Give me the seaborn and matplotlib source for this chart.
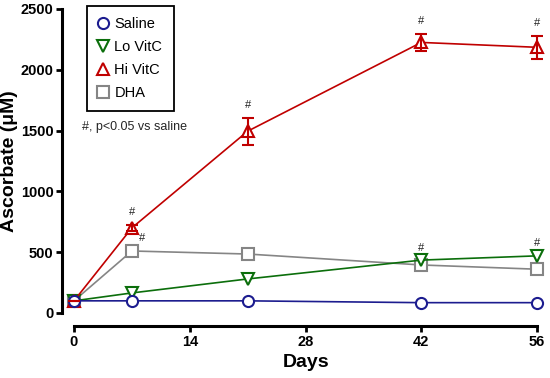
import numpy as np
import pandas as pd
import matplotlib
matplotlib.use("Agg")
import matplotlib.pyplot as plt
import seaborn as sns
from matplotlib.lines import Line2D

days = [0, 7, 21, 42, 56]
saline = [100, 100, 100, 85, 85]
lo_vitc = [100, 165, 280, 435, 470]
hi_vitc = [100, 700, 1495, 2225, 2185]
hi_vitc_err = [0, 25, 110, 70, 95]
dha = [100, 510, 485, 395, 360]

groups = ["Saline", "Lo VitC", "Hi VitC", "DHA"]
colors = {"Saline": "#1c1c8f", "Lo VitC": "#0b6e0b", "Hi VitC": "#c00000", "DHA": "#858585"}
markers = {"Saline": "o", "Lo VitC": "v", "Hi VitC": "^", "DHA": "s"}

# significance marks: (group, day index)
sig = [("Hi VitC", 1), ("DHA", 1), ("Hi VitC", 2), ("Hi VitC", 3), ("Hi VitC", 4),
       ("Lo VitC", 3), ("Lo VitC", 4)]

values = {"Saline": saline, "Lo VitC": lo_vitc, "Hi VitC": hi_vitc, "DHA": dha}
df = pd.DataFrame([
    {"Days": d, "Ascorbate": v, "Group": g}
    for g in groups for d, v in zip(days, values[g])
])

sns.set_style("ticks")
plt.rcParams["font.family"] = ["Liberation Sans", "DejaVu Sans"]

fig = plt.figure(figsize=(5.5, 3.78), dpi=100)
ax = fig.add_axes([62 / 550, 65 / 378, 487.5 / 550, 304 / 378])

sns.lineplot(data=df, x="Days", y="Ascorbate", hue="Group", style="Group",
             hue_order=groups, style_order=groups, palette=colors,
             markers=markers, dashes=False, linewidth=1.2, markersize=8,
             legend=False, ax=ax, clip_on=False)

zorders = {"Saline": 6, "Lo VitC": 4, "Hi VitC": 5, "DHA": 3}
for line, g in zip(ax.lines, groups):
    line.set_markeredgecolor(colors[g])
    line.set_markerfacecolor("white")
    line.set_markeredgewidth(1.5)
    line.set_zorder(zorders[g])

ax.errorbar(days, hi_vitc, yerr=hi_vitc_err, fmt="none", ecolor=colors["Hi VitC"],
            elinewidth=1.5, capsize=4, capthick=1.5, zorder=7, clip_on=False)

errs = {"Hi VitC": hi_vitc_err}
for g, i in sig:
    top = values[g][i] + errs.get(g, [0] * len(days))[i]
    dx = 7 if g == "DHA" else 0
    ax.annotate("#", (days[i], top), xytext=(dx, 9), textcoords="offset points",
                ha="center", va="center", fontsize=8, color="#222222")

ax.text(82 / 550, 1 - 127 / 378, "#, p<0.05 vs saline", transform=fig.transFigure,
        ha="left", va="center", fontsize=9)

ax.set_xlim(-1.45, 57.5)
ax.set_ylim(0, 2500)
ax.set_xticks([0, 14, 28, 42, 56])
ax.set_yticks([0, 500, 1000, 1500, 2000, 2500])
ax.spines["left"].set_bounds(0, 2500)
ax.spines["bottom"].set_bounds(0, 56)
ax.spines["bottom"].set_position(("outward", 9.5))
for s in ["left", "bottom"]:
    ax.spines[s].set_linewidth(2.2)
    ax.spines[s].set_color("black")
sns.despine(ax=ax, offset=None, trim=False)
ax.tick_params(axis="both", width=2, length=4, labelsize=10.5, color="black",
               labelcolor="black", pad=2)
for lbl in ax.get_xticklabels() + ax.get_yticklabels():
    lbl.set_fontweight("bold")
ax.set_xlabel("Days", fontsize=14, fontweight="bold", labelpad=4, color="black")
ax.set_ylabel("Ascorbate (\u03bcM)", fontsize=14, fontweight="bold", labelpad=2,
              color="black")

handles = [Line2D([], [], linestyle="none", marker=markers[g], markersize=8,
                  markerfacecolor="white", markeredgecolor=colors[g], markeredgewidth=1.5)
           for g in groups]
leg = ax.legend(handles, groups, loc="upper left", bbox_to_anchor=(87 / 550, 1 - 6 / 378),
                bbox_transform=fig.transFigure, borderaxespad=0, fancybox=False,
                framealpha=1, edgecolor="black", fontsize=10.5, labelspacing=0.6,
                handlelength=0.7, handletextpad=0.4, borderpad=0.78)
leg.get_frame().set_linewidth(1.3)
for t in leg.get_texts():
    t.set_color("black")

fig.savefig("out.png", dpi=100)
